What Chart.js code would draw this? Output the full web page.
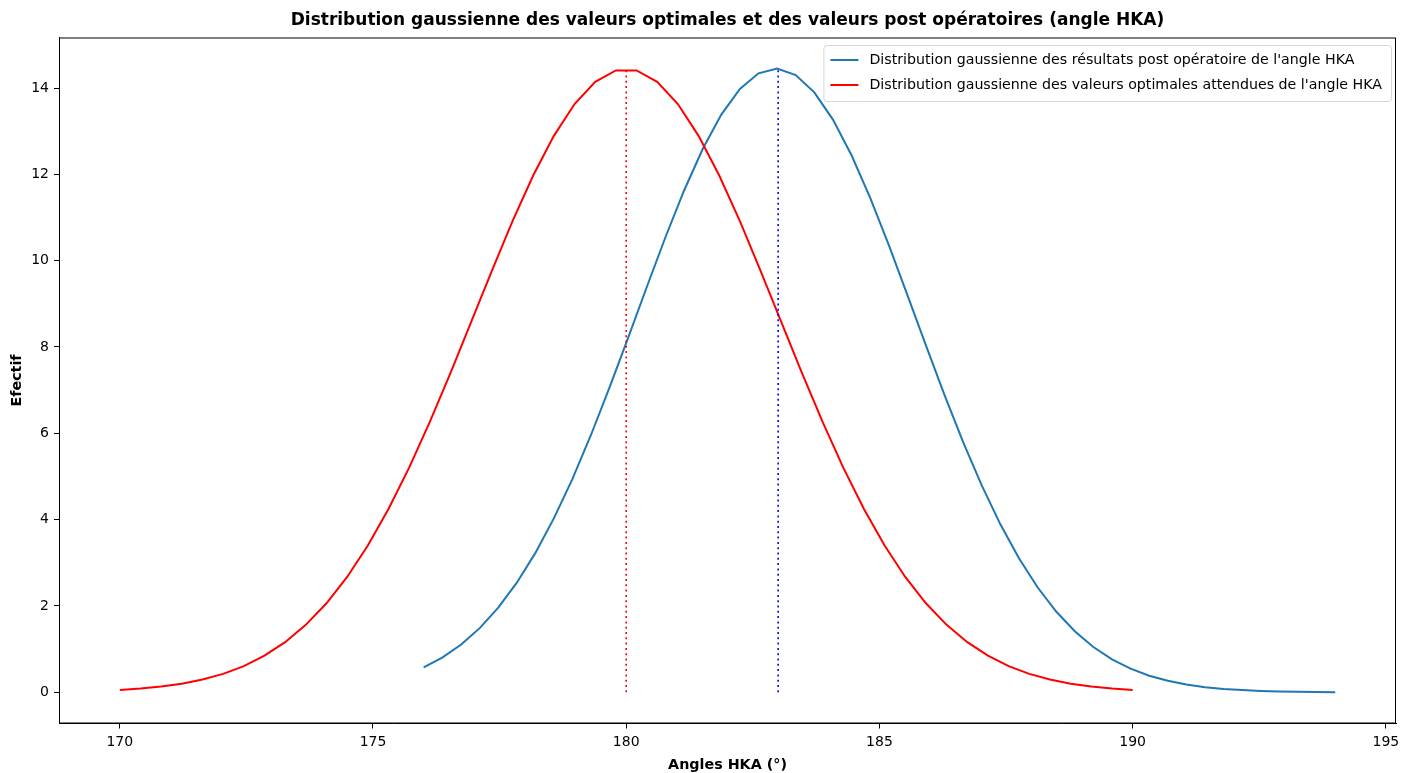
<!DOCTYPE html>
<html>
<head>
<meta charset="utf-8">
<script src="https://cdn.jsdelivr.net/npm/chart.js@4"></script>
<style>
  body { margin: 0; background: #fff; }
  #wrap { width: 1413px; height: 773px; }
</style>
</head>
<body>
<div id="wrap"><canvas id="chart"></canvas></div>
<script>
// values
const redX = [170.000, 170.408, 170.816, 171.224, 171.633, 172.041, 172.449, 172.857, 173.265, 173.673,
  174.082, 174.490, 174.898, 175.306, 175.714, 176.122, 176.531, 176.939, 177.347, 177.755,
  178.163, 178.571, 178.980, 179.388, 179.796, 180.204, 180.612, 181.020, 181.429, 181.837,
  182.245, 182.653, 183.061, 183.469, 183.878, 184.286, 184.694, 185.102, 185.510, 185.918,
  186.327, 186.735, 187.143, 187.551, 187.959, 188.367, 188.776, 189.184, 189.592, 190.000];
const redY = [0.056, 0.087, 0.133, 0.200, 0.295, 0.428, 0.608, 0.848, 1.162, 1.563,
  2.063, 2.673, 3.400, 4.246, 5.205, 6.263, 7.399, 8.580, 9.766, 10.914,
  11.972, 12.892, 13.629, 14.143, 14.407, 14.407, 14.143, 13.629, 12.892, 11.972,
  10.914, 9.766, 8.580, 7.399, 6.263, 5.205, 4.246, 3.400, 2.673, 2.063,
  1.563, 1.162, 0.848, 0.608, 0.428, 0.295, 0.200, 0.133, 0.087, 0.056];

const blueX = [176.000, 176.367, 176.735, 177.102, 177.469, 177.837, 178.204, 178.571, 178.939, 179.306,
  179.673, 180.041, 180.408, 180.776, 181.143, 181.510, 181.878, 182.245, 182.612, 182.980,
  183.347, 183.714, 184.082, 184.449, 184.816, 185.184, 185.551, 185.918, 186.286, 186.653,
  187.020, 187.388, 187.755, 188.122, 188.490, 188.857, 189.224, 189.592, 189.959, 190.327,
  190.694, 191.061, 191.429, 191.796, 192.163, 192.531, 192.898, 193.265, 193.633, 194.000];
const blueY = [0.579, 0.806, 1.103, 1.481, 1.954, 2.534, 3.224, 4.029, 4.944, 5.967,
  7.068, 8.224, 9.396, 10.548, 11.626, 12.586, 13.385, 13.980, 14.340, 14.449,
  14.299, 13.899, 13.268, 12.442, 11.459, 10.364, 9.208, 8.037, 6.886, 5.798,
  4.795, 3.892, 3.105, 2.433, 1.871, 1.415, 1.050, 0.765, 0.548, 0.385,
  0.266, 0.181, 0.120, 0.079, 0.051, 0.032, 0.020, 0.012, 0.007, 0.004];

// dotted vertical lines (mean of each distribution)
const meanX = [180, 183];
const meanTop = [14.41, 14.45];

const xTicks = [170, 175, 180, 185, 190, 195];
const yTicks = [0, 2, 4, 6, 8, 10, 12, 14];

const labels = [
  "Distribution gaussienne des résultats post opératoire de l'angle HKA",
  "Distribution gaussienne des valeurs optimales attendues de l'angle HKA"
];
const titleText = "Distribution gaussienne des valeurs optimales et des valeurs post opératoires (angle HKA)";

const FONT = "'DejaVu Sans', sans-serif";

function pts(xs, ys) {
  return xs.map(function(x, i) { return {x: x, y: ys[i]}; });
}

// frame, title and legend the way matplotlib draws them
const mplExtras = {
  id: 'mplExtras',
  afterDatasetsDraw: function(chart) {
    const ctx = chart.ctx;
    const a = chart.chartArea;
    ctx.save();
    ctx.strokeStyle = '#000';
    ctx.lineWidth = 1;
    ctx.strokeRect(a.left + 0.5, a.top + 0.5, a.right - a.left - 1, a.bottom - a.top - 1);

    // legend
    ctx.font = '14.2px ' + FONT;
    var tw = Math.max(ctx.measureText(labels[0]).width, ctx.measureText(labels[1]).width);
    var w = 7 + 28 + 11 + tw + 9;
    var h = 56;
    var x0 = a.right - 5 - w;
    var y0 = a.top + 7.5;
    ctx.beginPath();
    ctx.roundRect(x0 + 0.5, y0 + 0.5, w, h, 3);
    ctx.fillStyle = 'rgba(255,255,255,0.8)';
    ctx.fill();
    ctx.strokeStyle = '#d6d6d6';
    ctx.stroke();
    var colors = ['#1f77b4', '#ff0000'];
    for (var i = 0; i < 2; i++) {
      var yy = y0 + 15 + i * 25;
      ctx.beginPath();
      ctx.moveTo(x0 + 7, yy);
      ctx.lineTo(x0 + 35, yy);
      ctx.strokeStyle = colors[i];
      ctx.lineWidth = 2;
      ctx.stroke();
      ctx.fillStyle = '#000';
      ctx.textBaseline = 'middle';
      ctx.textAlign = 'left';
      ctx.fillText(labels[i], x0 + 46, yy);
    }

    // title centred over the axes
    ctx.font = 'bold 17px ' + FONT;
    ctx.textAlign = 'center';
    ctx.fillText(titleText, (a.left + a.right) / 2, 20.5);
    ctx.restore();
  }
};

const ctx = document.getElementById('chart');
new Chart(ctx, {
  type: 'line',
  data: {
    datasets: [
      {
        label: labels[0],
        data: pts(blueX, blueY),
        borderColor: '#1f77b4',
        borderWidth: 2,
        pointRadius: 0,
        order: 4
      },
      {
        label: labels[1],
        data: pts(redX, redY),
        borderColor: '#ff0000',
        borderWidth: 2,
        pointRadius: 0,
        order: 3
      },
      {
        label: 'mean optimal',
        data: [{x: meanX[0], y: 0}, {x: meanX[0], y: meanTop[0]}],
        borderColor: '#ff0000',
        borderWidth: 1.6,
        borderDash: [2, 3.3],
        pointRadius: 0,
        order: 2
      },
      {
        label: 'mean post op',
        data: [{x: meanX[1], y: 0}, {x: meanX[1], y: meanTop[1]}],
        borderColor: '#0000ff',
        borderWidth: 1.6,
        borderDash: [2, 3.3],
        pointRadius: 0,
        order: 1
      }
    ]
  },
  options: {
    responsive: true,
    maintainAspectRatio: false,
    animation: false,
    layout: { padding: { left: 0, right: 17, top: 37.5, bottom: 0 } },
    plugins: {
      legend: { display: false },
      tooltip: { enabled: false },
      title: { display: false }
    },
    scales: {
      x: {
        type: 'linear',
        min: 168.8,
        max: 195.2,
        afterBuildTicks: function(axis) { axis.ticks = xTicks.map(function(v) { return {value: v}; }); },
        afterFit: function(axis) { axis.height = 49.5; },
        grid: { display: true, drawOnChartArea: false, drawTicks: true, tickLength: 5, tickColor: '#000' },
        border: { display: true, color: '#000', width: 1 },
        ticks: { color: '#000', padding: 5, maxRotation: 0, font: { family: FONT, size: 14 } },
        title: {
          display: true,
          text: 'Angles HKA (°)',
          color: '#000',
          padding: { top: 0, bottom: -1 },
          font: { family: FONT, size: 14.3, weight: 'bold' }
        }
      },
      y: {
        type: 'linear',
        min: -0.7225,
        max: 15.17,
        afterBuildTicks: function(axis) { axis.ticks = yTicks.map(function(v) { return {value: v}; }); },
        afterFit: function(axis) { axis.width = 59; },
        grid: { display: true, drawOnChartArea: false, drawTicks: true, tickLength: 5, tickColor: '#000' },
        border: { display: true, color: '#000', width: 1 },
        ticks: { color: '#000', padding: 5, font: { family: FONT, size: 14 } },
        title: {
          display: true,
          text: 'Efectif',
          color: '#000',
          padding: { top: 9, bottom: 0 },
          font: { family: FONT, size: 14.3, weight: 'bold' }
        }
      }
    }
  },
  plugins: [mplExtras]
});
</script>
</body>
</html>
